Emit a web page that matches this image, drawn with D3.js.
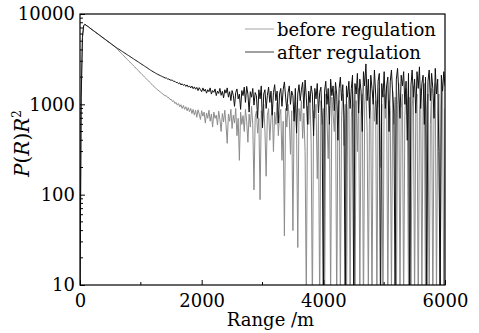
<!DOCTYPE html>
<html>
<head>
<meta charset="utf-8">
<script src="https://cdn.jsdelivr.net/npm/d3@7"></script>
<style>
  body { margin: 0; background: #fff; }
  text { font-family: "DejaVu Serif", "Liberation Serif", serif; }
</style>
</head>
<body>
<div id="chart"></div>
<script>
// range step of the samples (m)
const rangeStep = 20;

const seriesNames = ["before regulation", "after regulation"];

// shared near-range part, 0 - 560 m
const nearValues = [
  8, 1200, 5500, 7400, 7700, 7500, 7350, 7200, 7020, 6850,
  6700, 6550, 6400, 6250, 6110, 5970, 5830, 5700, 5570, 5440,
  5320, 5200, 5080, 4960, 4850, 4740, 4630, 4530, 4420
];

// P(R)R^2 before regulation, 580 - 6000 m
const beforeValues = [
  // 580 - 1360
  4280, 4150, 4020, 3900, 3780, 3660, 3550, 3440, 3330, 3230,
  3130, 3030, 2940, 2850, 2760, 2670, 2590, 2510, 2430, 2360,
  2280, 2210, 2140, 2080, 2010, 1950, 1890, 1830, 1770, 1720,
  1670, 1610, 1565, 1520, 1480, 1440, 1405, 1370, 1335, 1305,
  // 1380 - 2400
  1270, 1250, 1240, 1190, 1185, 1130, 1135, 1075, 1095, 1020,
  1050, 980, 1020, 940, 990, 900, 970, 880, 940, 850,
  920, 830, 900, 790, 880, 760, 860, 720, 870, 780,
  680, 850, 740, 820, 620, 800, 700, 860, 650, 780,
  560, 820, 700, 760, 590, 840, 680, 500, 790, 640,
  860, 600,
  // 2420 - 3400
  370, 780, 650, 880, 540, 760, 620, 900, 450, 700,
  240, 820, 600, 750, 500, 880, 650, 380, 780, 560,
  950, 600, 113, 720, 840, 480, 700, 88, 850, 620,
  1000, 520, 160, 760, 900, 400, 700, 980, 300, 820,
  600, 1050, 450, 750, 880, 240, 650, 35, 900, 560,
  // 3420 - 4400
  1000, 700, 280, 850, 40, 760, 1050, 520, 26, 900,
  650, 1100, 420, 800, 300, 7, 950, 600, 1200, 380,
  5, 850, 700, 1000, 150, 780, 5, 1100, 600, 900,
  4, 1300, 700, 250, 950, 6, 1200, 800, 500, 1400,
  5, 900, 1100, 7, 750, 1300, 350, 1000, 4, 850,
  // 4420 - 5400
  1200, 6, 700, 1400, 900, 5, 1100, 300, 1500, 8,
  800, 1300, 4, 1000, 1600, 500, 7, 1200, 800, 5,
  1400, 650, 1100, 6, 900, 1500, 200, 1000, 4, 1300,
  700, 1600, 5, 1100, 850, 7, 1400, 600, 1200, 4,
  1000, 1700, 6, 900, 1300, 5, 750, 1500, 1100, 8,
  // 5420 - 6000
  1200, 5, 900, 1600, 6, 1000, 1300, 4, 800, 1500,
  7, 1100, 1700, 5, 900, 1300, 6, 600, 1500, 4,
  1100, 1700, 7, 800, 1300, 5, 1000, 1600, 6, 900
];

// P(R)R^2 after regulation, 580 - 6000 m
const afterValues = [
  // 580 - 1360
  4330, 4240, 4150, 4070, 3990, 3910, 3830, 3750, 3670, 3600,
  3530, 3460, 3390, 3320, 3250, 3190, 3120, 3060, 3000, 2940,
  2880, 2820, 2760, 2710, 2650, 2600, 2550, 2490, 2440, 2390,
  2345, 2300, 2258, 2218, 2180, 2144, 2110, 2078, 2048, 2020,
  // 1380 - 2400
  1990, 1955, 1960, 1905, 1910, 1860, 1850, 1855, 1790, 1800,
  1740, 1750, 1690, 1730, 1640, 1690, 1620, 1660, 1580, 1640,
  1550, 1600, 1520, 1590, 1490, 1560, 1470, 1540, 1420, 1530,
  1450, 1380, 1520, 1400, 1470, 1330, 1450, 1380, 1520, 1300,
  1420, 1360, 1480, 1250, 1400, 1320, 1500, 1260, 1390, 1180,
  1450, 1330,
  // 2420 - 3400
  1520, 1200, 1380, 1100, 1420, 1260, 950, 1350, 1480, 1150,
  1300, 880, 1420, 1250, 1550, 1050, 1580, 1300, 820, 1380,
  1200, 1500, 980, 1350, 1250, 700, 1450, 1150, 1600, 550,
  1300, 1450, 900, 1250, 1550, 1050, 1400, 760, 1350, 1650,
  1100, 1400, 620, 1300, 1500, 950, 1450, 1770, 1200, 850,
  // 3420 - 4400
  1350, 1600, 1000, 1400, 1250, 650, 1500, 480, 1300, 1650,
  1100, 1450, 1750, 900, 1860, 1200, 600, 1400, 1050, 1600,
  1300, 450, 1500, 1150, 1700, 800, 1350, 1550, 700, 5,
  1400, 1800, 1000, 1500, 600, 1900, 1250, 1600, 850, 1750,
  1300, 400, 1500, 2000, 1100, 1650, 700, 4, 1600, 1200,
  // 4420 - 5400
  1800, 900, 1500, 2100, 5, 1700, 1300, 2200, 800, 1900,
  1400, 500, 2300, 1600, 2800, 1100, 1900, 700, 2100, 1500,
  1000, 2400, 1300, 600, 1800, 2200, 4, 1700, 1200, 2300,
  900, 1600, 2000, 500, 1800, 2400, 1300, 800, 6, 1900,
  2500, 1400, 700, 2100, 1600, 2300, 1000, 1800, 400, 2200,
  // 5420 - 6000
  5, 1600, 2400, 1200, 1900, 800, 2300, 1500, 2600, 900,
  1700, 2100, 600, 2000, 5, 1800, 2400, 1100, 2200, 1500,
  700, 2500, 1300, 1900, 300, 6, 2100, 1400, 2300, 1600
];

const xTicks = [0, 2000, 4000, 6000];
const xMinorTicks = [1000, 3000, 5000];
const yTicks = [10, 100, 1000, 10000];

const W = 479, H = 333;
const margin = {top: 14, right: 34, bottom: 48, left: 80};
const innerW = W - margin.left - margin.right;
const innerH = H - margin.top - margin.bottom;

const svg = d3.select("#chart").append("svg")
    .attr("width", W)
    .attr("height", H);

const g = svg.append("g")
    .attr("transform", `translate(${margin.left},${margin.top})`);

const x = d3.scaleLinear().domain([0, 6000]).range([0, innerW]);
const y = d3.scaleLog().domain([10, 10000]).range([innerH, 0]);

g.append("clipPath").attr("id", "plot-clip")
  .append("rect")
    .attr("width", innerW)
    .attr("height", innerH);

const line = d3.line()
    .x((d, i) => x(i * rangeStep))
    .y(d => y(Math.max(d, 1)));

const series = [
  {name: seriesNames[0], values: nearValues.concat(beforeValues), color: "#8c8c8c"},
  {name: seriesNames[1], values: nearValues.concat(afterValues), color: "#111"}
];

// before first, after drawn on top
series.forEach(s => {
  g.append("path")
      .datum(s.values)
      .attr("clip-path", "url(#plot-clip)")
      .attr("fill", "none")
      .attr("stroke", s.color)
      .attr("stroke-width", 1)
      .attr("d", line);
});

// x axis, ticks pointing inward
const xAxis = g.append("g")
    .attr("transform", `translate(0,${innerH})`)
    .call(d3.axisBottom(x).tickValues(xTicks).tickSize(-5).tickPadding(9).tickFormat(d3.format("d")));
xAxis.append("g").selectAll("line")
    .data(xMinorTicks)
    .join("line")
    .attr("x1", d => x(d)).attr("x2", d => x(d))
    .attr("y1", 0).attr("y2", -3)
    .attr("stroke", "#000");

// y axis, log ticks
let yMinor = [];
[10, 100, 1000].forEach(base => {
  for (let k = 2; k <= 9; k++) yMinor.push(base * k);
});
const yAxis = g.append("g")
    .call(d3.axisLeft(y).tickValues(yTicks).tickSize(-5).tickPadding(5).tickFormat(d3.format("d")));
yAxis.append("g").selectAll("line")
    .data(yMinor)
    .join("line")
    .attr("x1", 0).attr("x2", 3)
    .attr("y1", d => y(d)).attr("y2", d => y(d))
    .attr("stroke", "#000");

[xAxis, yAxis].forEach(ax => {
  ax.select(".domain").remove();
  ax.selectAll(".tick line").attr("stroke", "#000");
  ax.selectAll(".tick text")
    .attr("fill", "#000")
    .style("font-size", "18px");
});

// frame
g.append("rect")
    .attr("width", innerW)
    .attr("height", innerH)
    .attr("fill", "none")
    .attr("stroke", "#000")
    .attr("stroke-width", 1.2);

// axis titles
svg.append("text")
    .attr("x", margin.left + innerW / 2 + 8)
    .attr("y", 326)
    .attr("text-anchor", "middle")
    .style("font-size", "18px")
    .text("Range /m");

const yLabel = svg.append("text")
    .attr("transform", `translate(29,${margin.top + innerH / 2 - 6}) rotate(-90)`)
    .attr("text-anchor", "middle")
    .style("font-size", "20px");
yLabel.append("tspan").style("font-style", "italic").text("P");
yLabel.append("tspan").text("(");
yLabel.append("tspan").style("font-style", "italic").text("R");
yLabel.append("tspan").text(")");
yLabel.append("tspan").style("font-style", "italic").text("R");
yLabel.append("tspan").attr("dy", -8).style("font-size", "12px").text("2");

// legend
const legend = svg.append("g");
series.forEach((s, i) => {
  const ly = 29 + i * 23;
  legend.append("line")
      .attr("x1", 245).attr("x2", 274)
      .attr("y1", ly).attr("y2", ly)
      .attr("stroke", s.color)
      .attr("stroke-width", 0.8);
  legend.append("text")
      .attr("x", 277)
      .attr("y", ly + 7)
      .style("font-size", "18px")
      .text(s.name);
});
</script>
</body>
</html>
